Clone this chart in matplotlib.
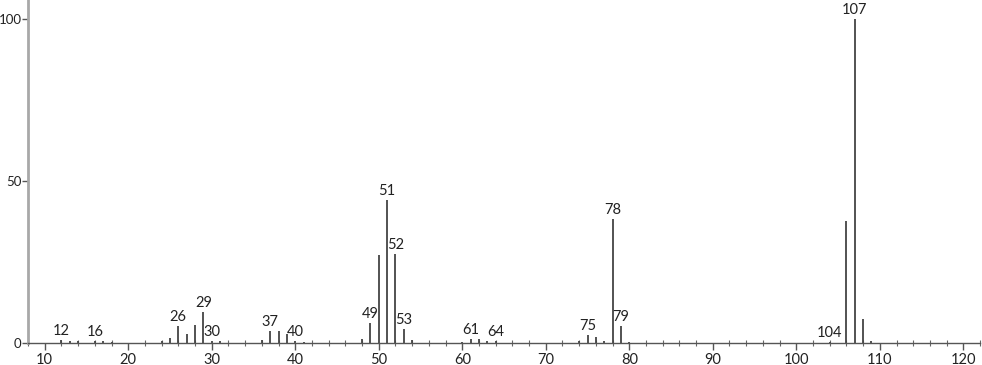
import matplotlib
matplotlib.use("Agg")
import matplotlib.pyplot as plt
from matplotlib.ticker import MultipleLocator

plt.rcParams['font.family'] = ['Lato', 'DejaVu Sans']

# m/z and relative abundance
mz = [12, 13, 14, 16, 17, 18, 24, 25, 26, 27, 28, 29, 30, 31,
      36, 37, 38, 39, 40, 41, 48, 49, 50, 51, 52, 53, 54,
      60, 61, 62, 63, 64, 74, 75, 76, 77, 78, 79, 80,
      104, 106, 107, 108, 109]
intensity = [1.0, 0.5, 0.5, 0.7, 0.5, 0.3, 0.5, 1.5, 5.3, 2.8, 5.6, 9.6, 0.6, 0.5,
             0.8, 3.7, 3.7, 2.8, 0.5, 0.3, 1.2, 6.2, 27.3, 44.1, 27.5, 4.4, 0.8,
             0.3, 1.2, 1.2, 0.6, 0.5, 0.6, 2.5, 1.7, 0.6, 38.3, 5.3, 0.4,
             0.4, 37.7, 100.0, 7.3, 0.6]
labelled = [12, 16, 26, 29, 30, 37, 40, 49, 51, 52, 53, 61, 64,
            75, 78, 79, 104, 107]

fig = plt.figure(figsize=(9.82, 3.65), dpi=100)
ax = fig.add_axes([0.0285, 0.0603, 0.9695, 0.9397])

ax.vlines(mz, 0, intensity, color='#444444', linewidth=1.3)
for m, h in zip(mz, intensity):
    if m in labelled:
        ax.annotate(str(m), (m, h), xytext=(0, 1.5), textcoords='offset points',
                    ha='center', va='bottom', fontsize=10.5, color='#222222')

ax.set_xlim(8, 122)
ax.set_ylim(0, 106)
ax.xaxis.set_major_locator(MultipleLocator(10))
ax.xaxis.set_minor_locator(MultipleLocator(2))
ax.set_yticks([0, 50, 100])

for s in ['top', 'right']:
    ax.spines[s].set_visible(False)
ax.spines['left'].set_color('#a8a8a8')
ax.spines['left'].set_linewidth(2)
ax.spines['bottom'].set_color('#555555')
ax.spines['bottom'].set_linewidth(1)

ax.tick_params(axis='x', which='major', direction='out', length=5, width=1,
               color='#555555', labelsize=10.5, labelcolor='#222222', pad=2)
ax.tick_params(axis='x', which='minor', direction='inout', length=4, width=0.8,
               color='#666666')
ax.tick_params(axis='y', direction='out', length=4, width=1, color='#555555',
               labelsize=9.5, labelcolor='#222222', pad=0.5)

fig.savefig('out.png', dpi=100)
